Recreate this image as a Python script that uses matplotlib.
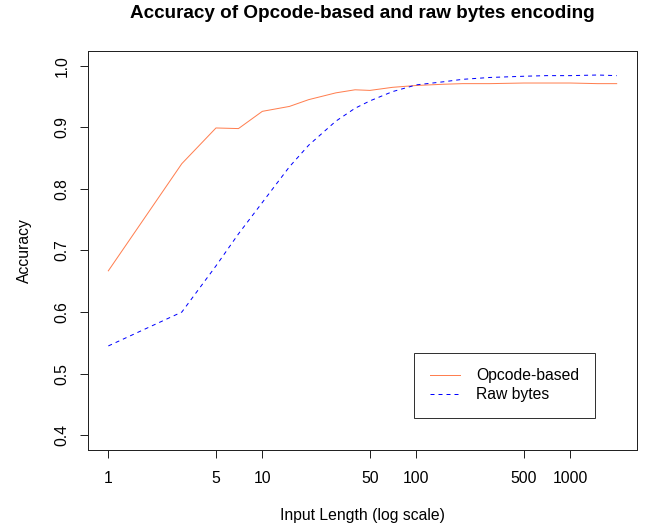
import math
import matplotlib
matplotlib.use("Agg")
import matplotlib.pyplot as plt
from matplotlib.ticker import FixedLocator, NullLocator

plt.rcParams['font.family'] = ['Liberation Sans', 'DejaVu Sans']

input_length = [1, 3, 5, 7, 10, 15, 20, 30, 40, 50, 70, 100, 150, 200, 300, 500, 700, 1000, 1500, 2000]
opcode_acc = [0.667, 0.841, 0.899, 0.898, 0.926, 0.934, 0.945, 0.956, 0.961, 0.960,
              0.965, 0.968, 0.970, 0.971, 0.971, 0.972, 0.972, 0.972, 0.971, 0.971]
raw_acc = [0.545, 0.600, 0.675, 0.727, 0.778, 0.836, 0.871, 0.910, 0.931, 0.943,
           0.958, 0.969, 0.974, 0.978, 0.981, 0.983, 0.984, 0.984, 0.985, 0.984]
x_ticks = [1, 5, 10, 50, 100, 500, 1000]
y_ticks = [0.4, 0.5, 0.6, 0.7, 0.8, 0.9, 1.0]

W, H = 647, 529
DPI = 72
FS = 15.7
fig = plt.figure(figsize=(W / DPI, H / DPI), dpi=DPI)
L, R, T, B = 88, 637, 51, 450
ax = fig.add_axes([L / W, 1 - B / H, (R - L) / W, (B - T) / H])

ax.plot(input_length, opcode_acc, color='#FF7F50', lw=1, label='Opcode-based')
ax.plot(input_length, raw_acc, color='blue', lw=1, linestyle=(0, (4, 4)), label='Raw bytes')

ax.set_xscale('log')
lo, hi = math.log10(min(input_length)), math.log10(max(input_length))
pad = 0.04 * (hi - lo)
ax.set_xlim(10 ** (lo - pad), 10 ** (hi + pad))
ax.set_ylim(0.4 - 0.024, 1.0 + 0.024)

ax.xaxis.set_major_locator(FixedLocator(x_ticks))
ax.xaxis.set_minor_locator(NullLocator())
ax.set_xticklabels([str(t) for t in x_ticks])
ax.set_yticks(y_ticks)
ax.set_yticklabels([f"{t:.1f}" for t in y_ticks], rotation=90, va='center')

ax.tick_params(axis='both', direction='out', length=8, width=1, labelsize=FS, color='#222222')
ax.tick_params(axis='x', pad=13)
ax.tick_params(axis='y', pad=10.5)
for s in ax.spines.values():
    s.set_linewidth(1)
    s.set_color('#222222')

ax.set_xlabel('Input Length (log scale)', fontsize=FS, labelpad=22)
ax.set_ylabel('Accuracy', fontsize=FS, labelpad=23)

fig.text((L + R) / 2 / W, 1 - 14 / H, 'Accuracy of Opcode-based and raw bytes encoding',
         ha='center', va='center', fontsize=18.9, fontweight='bold')

leg = ax.legend(loc='lower right', bbox_to_anchor=((595 - L) / (R - L), (B - 418) / (B - T)),
                fontsize=FS, frameon=True, fancybox=False, handlelength=1.97,
                borderpad=1.0, labelspacing=0.25, handletextpad=1.0, borderaxespad=0)
leg.get_frame().set_edgecolor('black')
leg.get_frame().set_linewidth(1)

fig.savefig('out.png', dpi=DPI)
